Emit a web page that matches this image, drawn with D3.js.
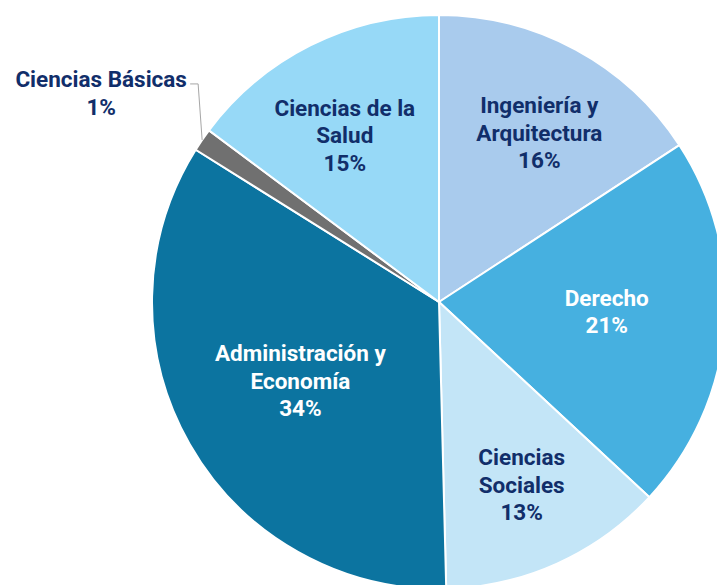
<!DOCTYPE html>
<html lang="es">
<head>
<meta charset="UTF-8">
<script src="https://d3js.org/d3.v7.min.js"></script>
<style>
  body { margin: 0; background: #fff; }
  svg { display: block; font-family: Roboto, "Noto Sans", sans-serif; }
</style>
</head>
<body>
<div id="chart"></div>
<script>
// slices, clockwise from 12 o'clock
const areas = [
  ["Ingeniería y", "Arquitectura"],
  ["Derecho"],
  ["Ciencias", "Sociales"],
  ["Administración y", "Economía"],
  ["Ciencias Básicas"],
  ["Ciencias de la", "Salud"]
];
const shares = [15.8, 21.1, 12.7, 34.3, 1.3, 14.8];
const pctLabels = ["16%", "21%", "13%", "34%", "1%", "15%"];
const colors = ["#a9cbed", "#46b0e0", "#c3e5f7", "#0c74a0", "#707070", "#97d9f7"];
const textColors = ["#112e6a", "#ffffff", "#112e6a", "#ffffff", "#112e6a", "#112e6a"];

const width = 717, height = 585;
const cx = 439, cy = 302, radius = 287;

// how far out each label sits (fraction of the radius), -1 = outside label
const labelR = [0.69, 0.555, 0.70, 0.56, -1, 0.67];
// small hand tweaks, like dragging labels in the original
const nudge = [[6, 5], [9, -4], [0, 0], [1, -1], [0, 0], [-8, 5]];

const svg = d3.select("#chart").append("svg")
  .attr("width", width)
  .attr("height", height);

const g = svg.append("g").attr("transform", `translate(${cx},${cy})`);

const pie = d3.pie().sort(null).value(d => d);
const arcs = pie(shares);

const arc = d3.arc().innerRadius(0).outerRadius(radius);

g.selectAll("path.slice")
  .data(arcs)
  .join("path")
  .attr("class", "slice")
  .attr("d", arc)
  .attr("fill", (d, i) => colors[i])
  .attr("stroke", "#fff")
  .attr("stroke-width", 2)
  .attr("stroke-linejoin", "round");

const lineH = 27.5;

function drawLabel(x, y, i) {
  const lines = areas[i].concat([pctLabels[i]]);
  const t = g.append("text")
    .attr("text-anchor", "middle")
    .attr("fill", textColors[i])
    .attr("font-size", 22.5)
    .attr("font-weight", 700);
  const top = y - (lines.length - 1) * lineH / 2;
  lines.forEach((s, k) => {
    t.append("tspan")
      .attr("x", x)
      .attr("y", top + k * lineH)
      .attr("dy", "0.35em")
      .text(s);
  });
}

arcs.forEach((d, i) => {
  const mid = (d.startAngle + d.endAngle) / 2;
  if (labelR[i] > 0) {
    const r = radius * labelR[i];
    drawLabel(r * Math.sin(mid) + nudge[i][0], -r * Math.cos(mid) + nudge[i][1], i);
  } else {
    // outside label with leader line
    const px = radius * Math.sin(mid), py = -radius * Math.cos(mid);
    const ex = px - 4, ey = py - 56;
    const lx = ex - 97, ly = ey + 9;
    g.append("polyline")
      .attr("points", [[px, py], [ex, ey], [ex - 8, ey]].map(p => p.join(",")).join(" "))
      .attr("fill", "none")
      .attr("stroke", "#a6a6a6")
      .attr("stroke-width", 1);
    drawLabel(lx, ly, i);
  }
});
</script>
</body>
</html>
